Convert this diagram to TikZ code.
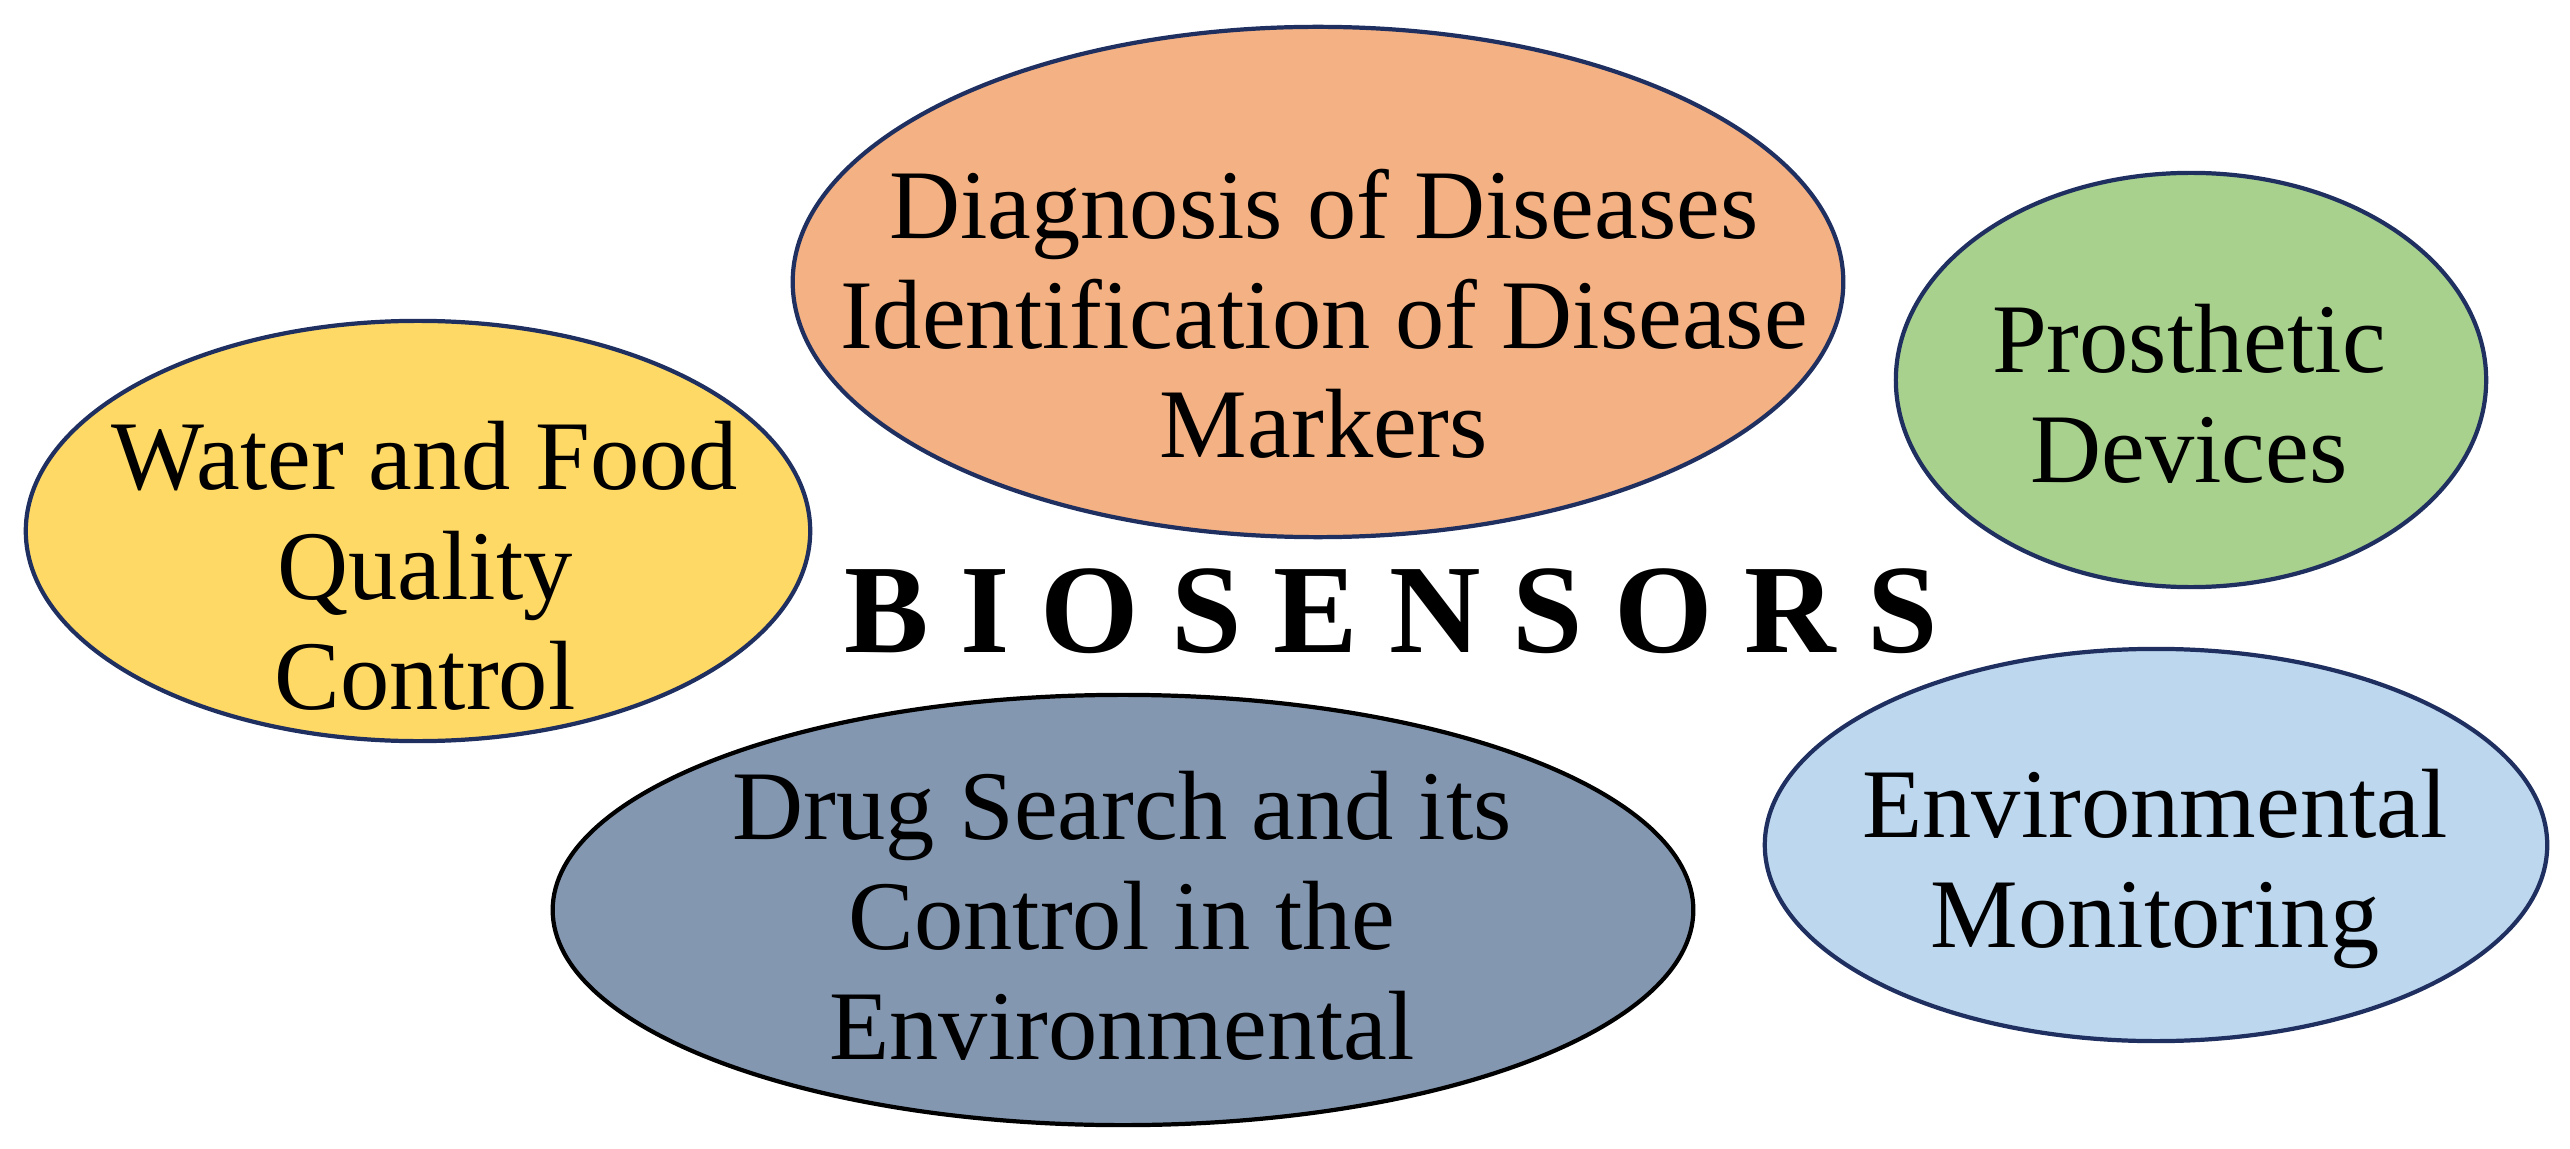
\documentclass[tikz,border=0pt]{standalone}
\usepackage{fontspec}
\setmainfont{Liberation Serif}
\usetikzlibrary{shapes.geometric}
\definecolor{cOrange}{HTML}{F4B183}
\definecolor{cYellow}{HTML}{FFD966}
\definecolor{cGreen}{HTML}{A9D18E}
\definecolor{cSlate}{HTML}{8497B0}
\definecolor{cSky}{HTML}{BDD7EE}
\definecolor{cNavy}{HTML}{1F3060}
\tikzset{
  bubble/.style={ellipse, draw=cNavy, line width=1.2pt, inner sep=0pt},
  btext/.style={anchor=base, align=center, inner sep=0pt, font=\fontsize{28}{31.2}\selectfont},
  title/.style={anchor=base, inner sep=0pt, font=\fontsize{36}{40}\selectfont\bfseries}
}
\begin{document}
\begin{tikzpicture}[x=0.01cm, y=-0.01cm]
\useasboundingbox (0,0) rectangle (2570,1149);
\node[bubble, fill=cOrange, minimum width=10.50cm, minimum height=5.10cm] (diag) at (1318,282) {};
\node[bubble, fill=cYellow, minimum width=7.84cm, minimum height=4.20cm] (water) at (418,531) {};
\node[bubble, fill=cGreen, minimum width=5.90cm, minimum height=4.14cm] (pros) at (2191,380) {};
\node[bubble, fill=cSlate, draw=black, minimum width=11.40cm, minimum height=4.30cm] (drug) at (1123,910) {};
\node[bubble, fill=cSky, minimum width=7.82cm, minimum height=3.92cm] (env) at (2156,845) {};

\node[btext] (diagT) at (1324,458) {Diagnosis of Diseases\\Identification of Disease\\Markers};
\node[btext] (waterT) at (425,709) {Water and Food\\Quality\\Control};
\node[btext] (prosT) at (2189,482) {Prosthetic\\Devices};
\node[btext] (drugT) at (1122,1059) {Drug Search and its\\Control in the\\Environmental};
\node[btext] (envT) at (2155,947) {Environmental\\Monitoring};
\node[title] (bio) at (1391,652) {B I O S E N S O R S};
\end{tikzpicture}
\end{document}
